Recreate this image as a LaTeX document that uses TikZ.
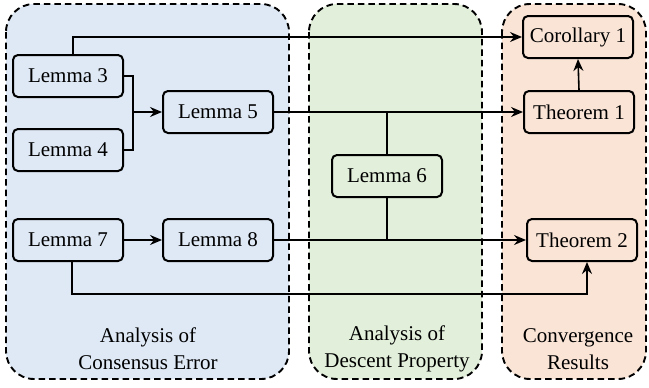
\documentclass[tikz,border=0pt]{standalone}
\usepackage{fontspec}
\setmainfont{Liberation Serif}
\usetikzlibrary{arrows.meta,calc}
\definecolor{gblue}{RGB}{222,233,245}
\definecolor{ggreen}{RGB}{226,239,218}
\definecolor{gorange}{RGB}{250,228,214}
\begin{document}
\begin{tikzpicture}[x=1pt,y=-1pt,
  grp/.style={draw=black,line width=1.9pt,dash pattern=on 6.5pt off 4pt,rounded corners=28pt},
  lem/.style={draw=black,line width=2pt,rounded corners=5pt,minimum width=110pt,minimum height=42pt,inner sep=0pt,font=\fontsize{21}{24}\selectfont},
  lab/.style={align=center,font=\fontsize{21}{27}\selectfont},
  conn/.style={line width=1.6pt},
  arr/.style={line width=1.6pt,-{Stealth[length=12pt,width=10pt,inset=4pt]}}]
\useasboundingbox (0,0) rectangle (649,388);
\draw[grp,fill=gblue] (6,4) rectangle (289,379);
\draw[grp,fill=ggreen] (309,4) rectangle (482,379);
\draw[grp,fill=gorange] (502,4) rectangle (646,379);
\node[lab] (t1) at (148,349) {Analysis of\\Consensus Error};
\node[lab] (t2) at (397,349) {Analysis of\\Descent Property};
\node[lab] (t3) at (578,349) {Convergence\\Results};
\node[lem] (l3) at (68,76) {Lemma 3};
\node[lem] (l4) at (68,150) {Lemma 4};
\node[lem] (l5) at (218,112) {Lemma 5};
\node[lem] (l6) at (387,176) {Lemma 6};
\node[lem] (l7) at (68,240) {Lemma 7};
\node[lem] (l8) at (218,240) {Lemma 8};
\node[lem] (c1) at (578,37) {Corollary 1};
\node[lem] (th1) at (579,112) {Theorem 1};
\node[lem] (th2) at (582,240) {Theorem 2};
\coordinate (j1) at (133,112);
\coordinate (j6a) at (387,112);
\coordinate (j6b) at (387,240);
\draw[arr] ($(l3.north)+(5,0)$) |- (c1.west);
\draw[conn] (l3.east) -| (j1);
\draw[conn] (l4.east) -| (j1);
\draw[arr] (j1) -- (l5.west);
\draw[arr] (l5.east) -- (th1.west);
\draw[conn] (l6.north) -- (j6a);
\draw[conn] (l6.south) -- (j6b);
\draw[arr] (th1.north) -- (c1.south);
\draw[arr] (l7.east) -- (l8.west);
\draw[arr] (l8.east) -- (th2.west);
\draw[arr] ($(l7.south)+(4,0)$) |- (548,294) -| ($(th2.south)+(5,0)$);
\end{tikzpicture}
\end{document}
